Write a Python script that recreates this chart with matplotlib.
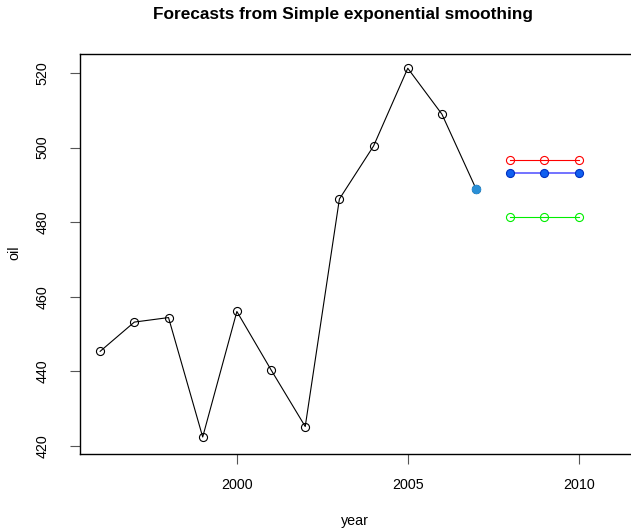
import matplotlib
matplotlib.use("Agg")
import matplotlib.pyplot as plt

plt.rcParams['font.family'] = ['Liberation Sans', 'DejaVu Sans']

years = [1996, 1997, 1998, 1999, 2000, 2001, 2002, 2003, 2004, 2005, 2006, 2007]
oil = [445.36, 453.20, 454.41, 422.38, 456.04, 440.39, 425.19, 486.21, 500.43, 521.28, 508.95, 488.89]
fc_years = [2008, 2009, 2010]
fc_red = [496.6, 496.6, 496.6]
fc_blue = [493.2, 493.2, 493.2]
fc_green = [481.3, 481.3, 481.3]

fig = plt.figure(figsize=(6.31, 5.30), dpi=100)
ax = fig.add_axes([80/631, 1-453.7/530, (647-80)/631, (453.7-54)/530])

ms = 5.8
ax.plot(years, oil, color='black', lw=0.8, marker='o', ms=ms, mfc='none', mec='black', mew=0.8)
ax.plot(years[-1:], oil[-1:], marker='o', ms=ms, color='#2a8fd6', ls='none')
ax.plot(fc_years, fc_red, color='red', lw=0.8, marker='o', ms=ms, mfc='none', mec='red', mew=0.8)
ax.plot(fc_years, fc_blue, color='#5a5aff', lw=1.2, marker='o', ms=ms, mfc='#1060f0', mec='#0030c0', mew=0.8)
ax.plot(fc_years, fc_green, color='#00ee00', lw=0.8, marker='o', ms=ms, mfc='none', mec='#00ee00', mew=0.8)

ax.set_xlim(1995.41, 2012.0)
ax.set_ylim(417.9, 525.1)
ax.set_xticks([2000, 2005, 2010])
ax.set_yticks([420, 440, 460, 480, 500, 520])
ax.tick_params(axis='both', direction='out', length=7.2, width=0.8, labelsize=10.3, color='#555555')
ax.tick_params(axis='x', pad=10)
ax.tick_params(axis='y', pad=15)
for lab in ax.get_yticklabels():
    lab.set_rotation(90)
    lab.set_va('center')
for s in ax.spines.values():
    s.set_linewidth(1.0)
    s.set_color('black')

fig.text(343/631, 1-15/530, 'Forecasts from Simple exponential smoothing', ha='center', va='center',
         fontsize=12.4, fontweight='bold')
fig.text(355/631, 1-521/530, 'year', ha='center', va='center', fontsize=10.3)
fig.text(14/631, 1-253/530, 'oil', ha='center', va='center', fontsize=10.3, rotation=90)

fig.savefig('out.png', dpi=100)
